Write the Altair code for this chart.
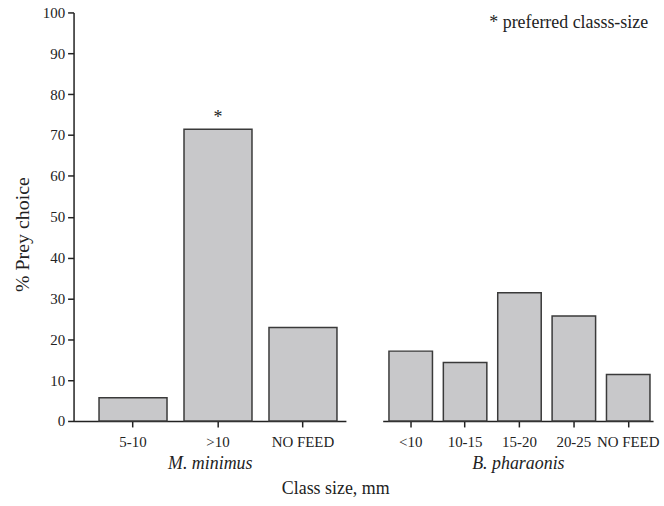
import altair as alt
import pandas as pd

# ---- data ----
m_classes = ["5-10", ">10", "NO FEED"]
m_values = [5.7, 71.4, 22.9]
m_marks = ["", "*", ""]
b_classes = ["<10", "10-15", "15-20", "20-25", "NO FEED"]
b_values = [17.1, 14.3, 31.4, 25.7, 11.4]
y_ticks = [0, 10, 20, 30, 40, 50, 60, 70, 80, 90, 100]
note_text = ["* preferred classs-size"]
note_y = [97.3]

FONT = "Liberation Serif"
FILL = "#c8c8ca"
EDGE = "#3a3a3a"
INK = "#222222"

dm = pd.DataFrame({"cls": m_classes, "pct": m_values, "mark": m_marks})
db = pd.DataFrame({"cls": b_classes, "pct": b_values})
dn = pd.DataFrame({"note": note_text, "y": note_y})

yscale = alt.Scale(domain=[0, 100], nice=False, zero=True)


def xaxis(title):
    return alt.Axis(
        title=title, titleFontStyle="italic", titleFont=FONT, titleFontSize=18,
        titleFontWeight="normal", titleColor=INK, titlePadding=5,
        labelAngle=0, labelFont=FONT, labelFontSize=15, labelColor=INK,
        labelPadding=8, tickSize=6, tickColor=INK, tickWidth=1.5,
        domainColor=INK, domainWidth=1.5, grid=False,
    )


left_x = alt.X("cls:N", sort=m_classes,
               scale=alt.Scale(paddingInner=0.2, paddingOuter=0.2025, align=0.74),
               axis=xaxis("M. minimus"))
left_bars = alt.Chart(dm).mark_bar(fill=FILL, stroke=EDGE, strokeWidth=1.5).encode(
    x=left_x,
    y=alt.Y("pct:Q", scale=yscale, axis=alt.Axis(
        values=y_ticks, title="% Prey choice", titleFont=FONT, titleFontSize=20,
        titleFontWeight="normal", titleColor=INK, titlePadding=10, titleY=223,
        labelFont=FONT, labelFontSize=15, labelColor=INK, labelPadding=3,
        tickSize=6, tickColor=INK, tickWidth=1.5, domainColor=INK,
        domainWidth=1.5, grid=False)),
)
left_star = alt.Chart(dm).mark_text(font=FONT, fontSize=18, color=INK,
                                   baseline="bottom", dy=-2).encode(
    x=left_x, y=alt.Y("pct:Q", scale=yscale), text="mark:N")
left = alt.layer(left_bars, left_star).properties(width=274, height=411)

right_x = alt.X("cls:N", sort=b_classes,
                scale=alt.Scale(paddingInner=0.2, paddingOuter=0.086, align=0.67),
                axis=xaxis("B. pharaonis"))
right_bars = alt.Chart(db).mark_bar(fill=FILL, stroke=EDGE, strokeWidth=1.5).encode(
    x=right_x,
    y=alt.Y("pct:Q", scale=yscale, axis=None),
)
right_note = alt.Chart(dn).mark_text(font=FONT, fontSize=18, color=INK,
                                    align="right", baseline="middle").encode(
    x=alt.value(267), y=alt.Y("y:Q", scale=yscale), text="note:N")
right = alt.layer(right_bars, right_note).properties(width=272, height=411)

chart = alt.hconcat(left, right, spacing=37).properties(
    title=alt.TitleParams("Class size, mm", orient="bottom", anchor="middle",
                          font=FONT, fontSize=18, fontWeight="normal",
                          color=INK, offset=7),
    padding={"left": 12, "top": 4, "right": 5, "bottom": 5},
    background="white",
).configure_view(strokeWidth=0, stroke="transparent")

chart.save("out.html", embed_options={"renderer": "svg", "actions": False})
